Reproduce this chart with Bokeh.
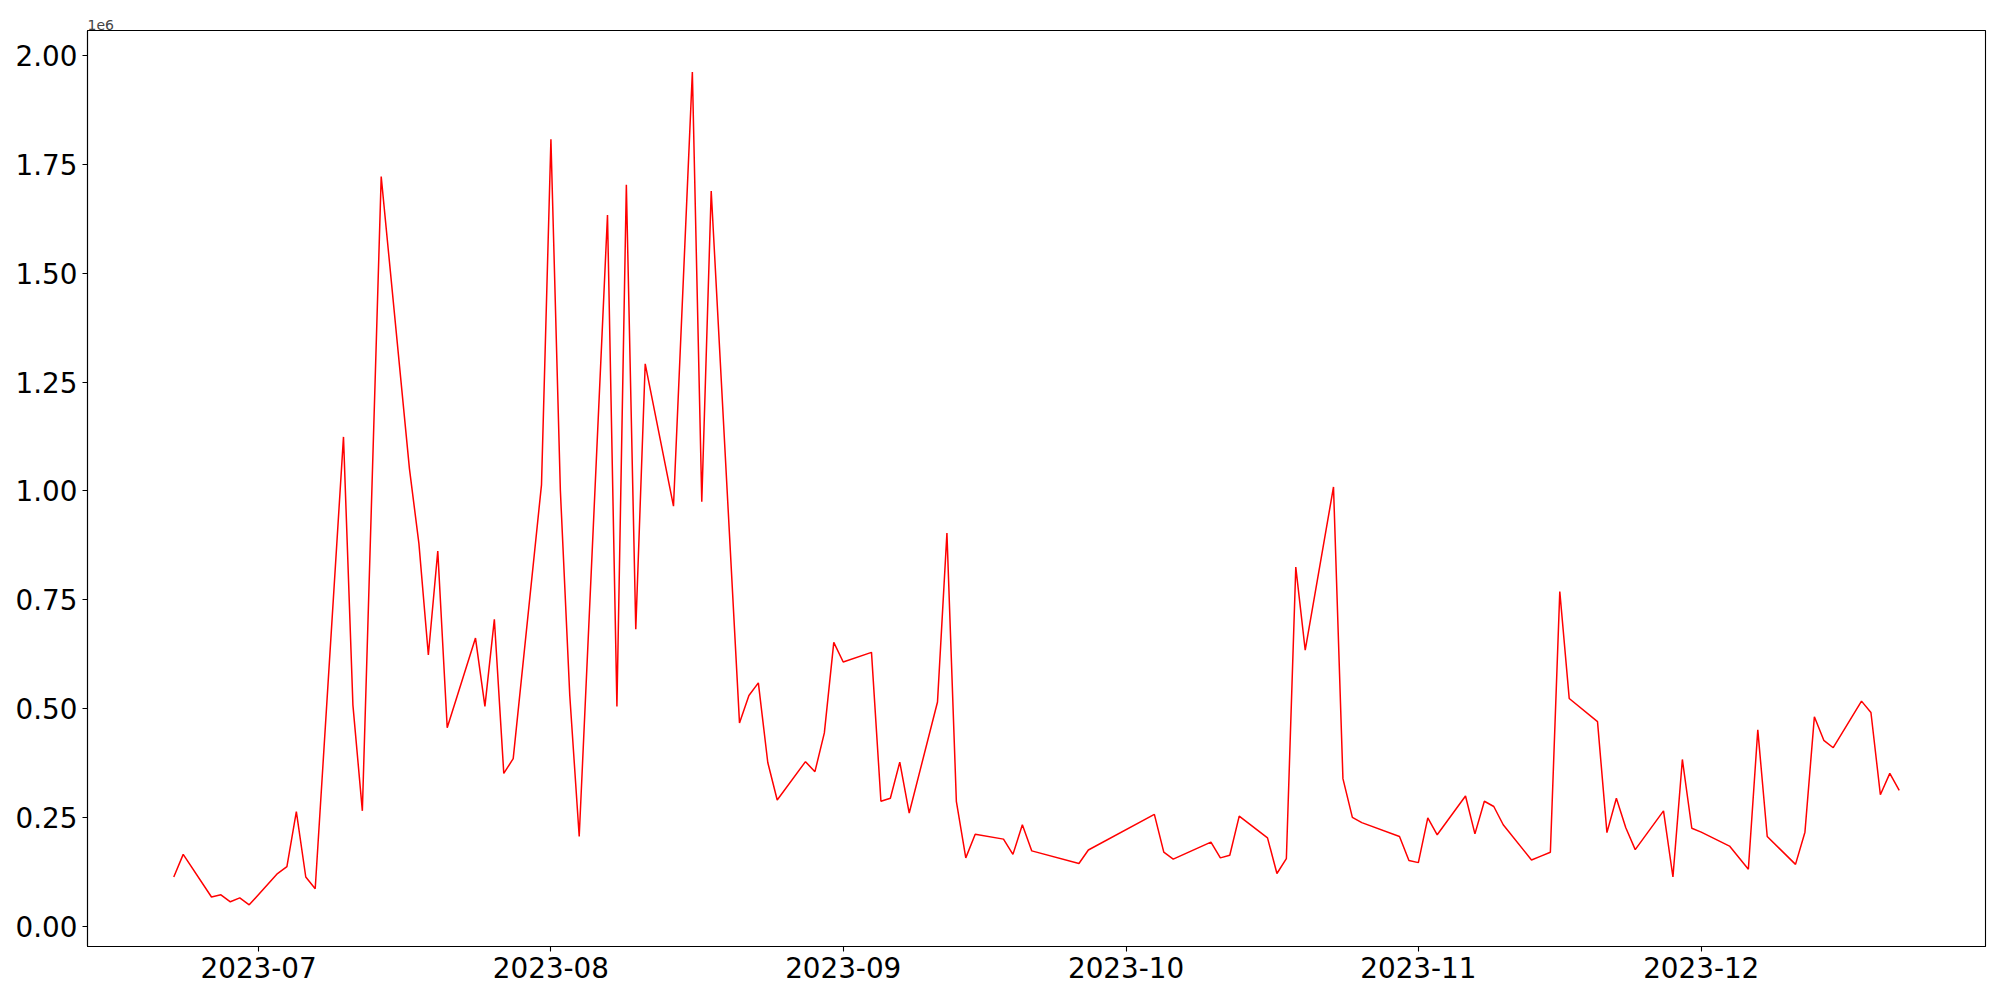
import numpy as np
import pandas as pd
from bokeh.plotting import figure
from bokeh.models import Range1d, FixedTicker, DatetimeTickFormatter, CustomJSTickFormatter
from bokeh.embed import file_html
from bokeh.resources import INLINE

# ---- data ----
dates = [
    "2023-06-22", "2023-06-23", "2023-06-26", "2023-06-27", "2023-06-28", "2023-06-29", "2023-06-30",
    "2023-07-03", "2023-07-04", "2023-07-05", "2023-07-06", "2023-07-07",
    "2023-07-10", "2023-07-11", "2023-07-12", "2023-07-14",
    "2023-07-17", "2023-07-18", "2023-07-19", "2023-07-20", "2023-07-21",
    "2023-07-24", "2023-07-25", "2023-07-26", "2023-07-27", "2023-07-28",
    "2023-07-31", "2023-08-01", "2023-08-02", "2023-08-03", "2023-08-04",
    "2023-08-07", "2023-08-08", "2023-08-09", "2023-08-10", "2023-08-11",
    "2023-08-14", "2023-08-16", "2023-08-17", "2023-08-18",
    "2023-08-21", "2023-08-22", "2023-08-23", "2023-08-24", "2023-08-25",
    "2023-08-28", "2023-08-29", "2023-08-30", "2023-08-31", "2023-09-01",
    "2023-09-04", "2023-09-05", "2023-09-06", "2023-09-07", "2023-09-08",
    "2023-09-11", "2023-09-12", "2023-09-13", "2023-09-14", "2023-09-15",
    "2023-09-18", "2023-09-19", "2023-09-20", "2023-09-21",
    "2023-09-26", "2023-09-27",
    "2023-10-04", "2023-10-05", "2023-10-06",
    "2023-10-10", "2023-10-11", "2023-10-12", "2023-10-13",
    "2023-10-16", "2023-10-17", "2023-10-18", "2023-10-19", "2023-10-20",
    "2023-10-23", "2023-10-24", "2023-10-25", "2023-10-26",
    "2023-10-30", "2023-10-31", "2023-11-01", "2023-11-02", "2023-11-03",
    "2023-11-06", "2023-11-07", "2023-11-08", "2023-11-09", "2023-11-10",
    "2023-11-13", "2023-11-14", "2023-11-15", "2023-11-16", "2023-11-17",
    "2023-11-20", "2023-11-21", "2023-11-22", "2023-11-23", "2023-11-24",
    "2023-11-27", "2023-11-28", "2023-11-29", "2023-11-30", "2023-12-01",
    "2023-12-04", "2023-12-06", "2023-12-07", "2023-12-08",
    "2023-12-11", "2023-12-12", "2023-12-13", "2023-12-14", "2023-12-15",
    "2023-12-18", "2023-12-19", "2023-12-20", "2023-12-21", "2023-12-22",
]
values = [
    113000, 165000, 67000, 72000, 56000, 65000, 49000,
    121000, 137000, 263000, 113000, 86000,
    1124000, 508000, 265000, 1722000,
    1050000, 879000, 623000, 862000, 456000,
    662000, 505000, 705000, 351000, 385000,
    1014000, 1808000, 1002000, 530000, 206000,
    1634000, 505000, 1703000, 682000, 1292000,
    965000, 1962000, 975000, 1689000,
    467000, 530000, 559000, 376000, 290000,
    378000, 355000, 444000, 652000, 607000,
    629000, 287000, 294000, 377000, 260000,
    515000, 903000, 287000, 157000, 211000,
    200000, 165000, 233000, 173000,
    144000, 175000,
    257000, 170000, 154000,
    193000, 157000, 163000, 253000,
    203000, 121000, 155000, 825000, 634000,
    1009000, 339000, 250000, 238000,
    206000, 151000, 146000, 249000, 210000,
    299000, 212000, 287000, 275000, 233000,
    152000, 161000, 170000, 769000, 523000,
    470000, 215000, 294000, 226000, 176000,
    265000, 113000, 383000, 225000, 216000,
    184000, 131000, 451000, 206000,
    142000, 216000, 481000, 427000, 410000,
    517000, 491000, 302000, 351000, 312000,
]
month_ticks = ["2023-07-01", "2023-08-01", "2023-09-01", "2023-10-01", "2023-11-01", "2023-12-01"]
y_ticks = [0, 250000, 500000, 750000, 1000000, 1250000, 1500000, 1750000, 2000000]

x = pd.to_datetime(dates)
y = np.array(values, dtype=float)

# matplotlib-like 5% margins
x0, x1 = x.min(), x.max()
dx = (x1 - x0) * 0.05
y0, y1 = y.min(), y.max()
dy = (y1 - y0) * 0.05

FONT = "DejaVu Sans"

p = figure(width=1992, height=992, output_backend="svg", toolbar_location=None,
           x_axis_type="datetime",
           x_range=Range1d(x0 - dx, x1 + dx), y_range=Range1d(y0 - dy, y1 + dy),
           min_border_left=87, min_border_right=7, min_border_top=30, min_border_bottom=46,
           title="1e6")

p.line(x, y, line_color="red", line_width=1.5)

p.grid.visible = False
p.outline_line_color = "black"
p.outline_line_width = 1.1
p.background_fill_color = "white"
p.border_fill_color = "white"

p.title.text_font = FONT
p.title.text_font_size = "14px"
p.title.text_font_style = "normal"
p.title.align = "left"
p.title.offset = 0
p.title.standoff = 2

tick_ms = [pd.Timestamp(t).value // 10**6 for t in month_ticks]
p.xaxis.ticker = FixedTicker(ticks=tick_ms)
p.xaxis.formatter = DatetimeTickFormatter(days="%Y-%m", months="%Y-%m", years="%Y-%m")
p.yaxis.ticker = FixedTicker(ticks=y_ticks)
p.yaxis.formatter = CustomJSTickFormatter(code="return (tick/1e6).toFixed(2);")

for ax in (p.xaxis, p.yaxis):
    ax.major_label_text_font = FONT
    ax.major_label_text_font_size = "27.8px"
    ax.major_label_text_color = "black"
    ax.major_tick_out = 5
    ax.major_tick_in = 0
    ax.minor_tick_out = 0
    ax.minor_tick_in = 0
    ax.major_tick_line_color = "black"
    ax.major_tick_line_width = 1.1
    ax.axis_line_color = "black"
    ax.axis_line_width = 1.1
    ax.major_label_standoff = 5

open("out.html", "w").write(file_html(p, INLINE))
